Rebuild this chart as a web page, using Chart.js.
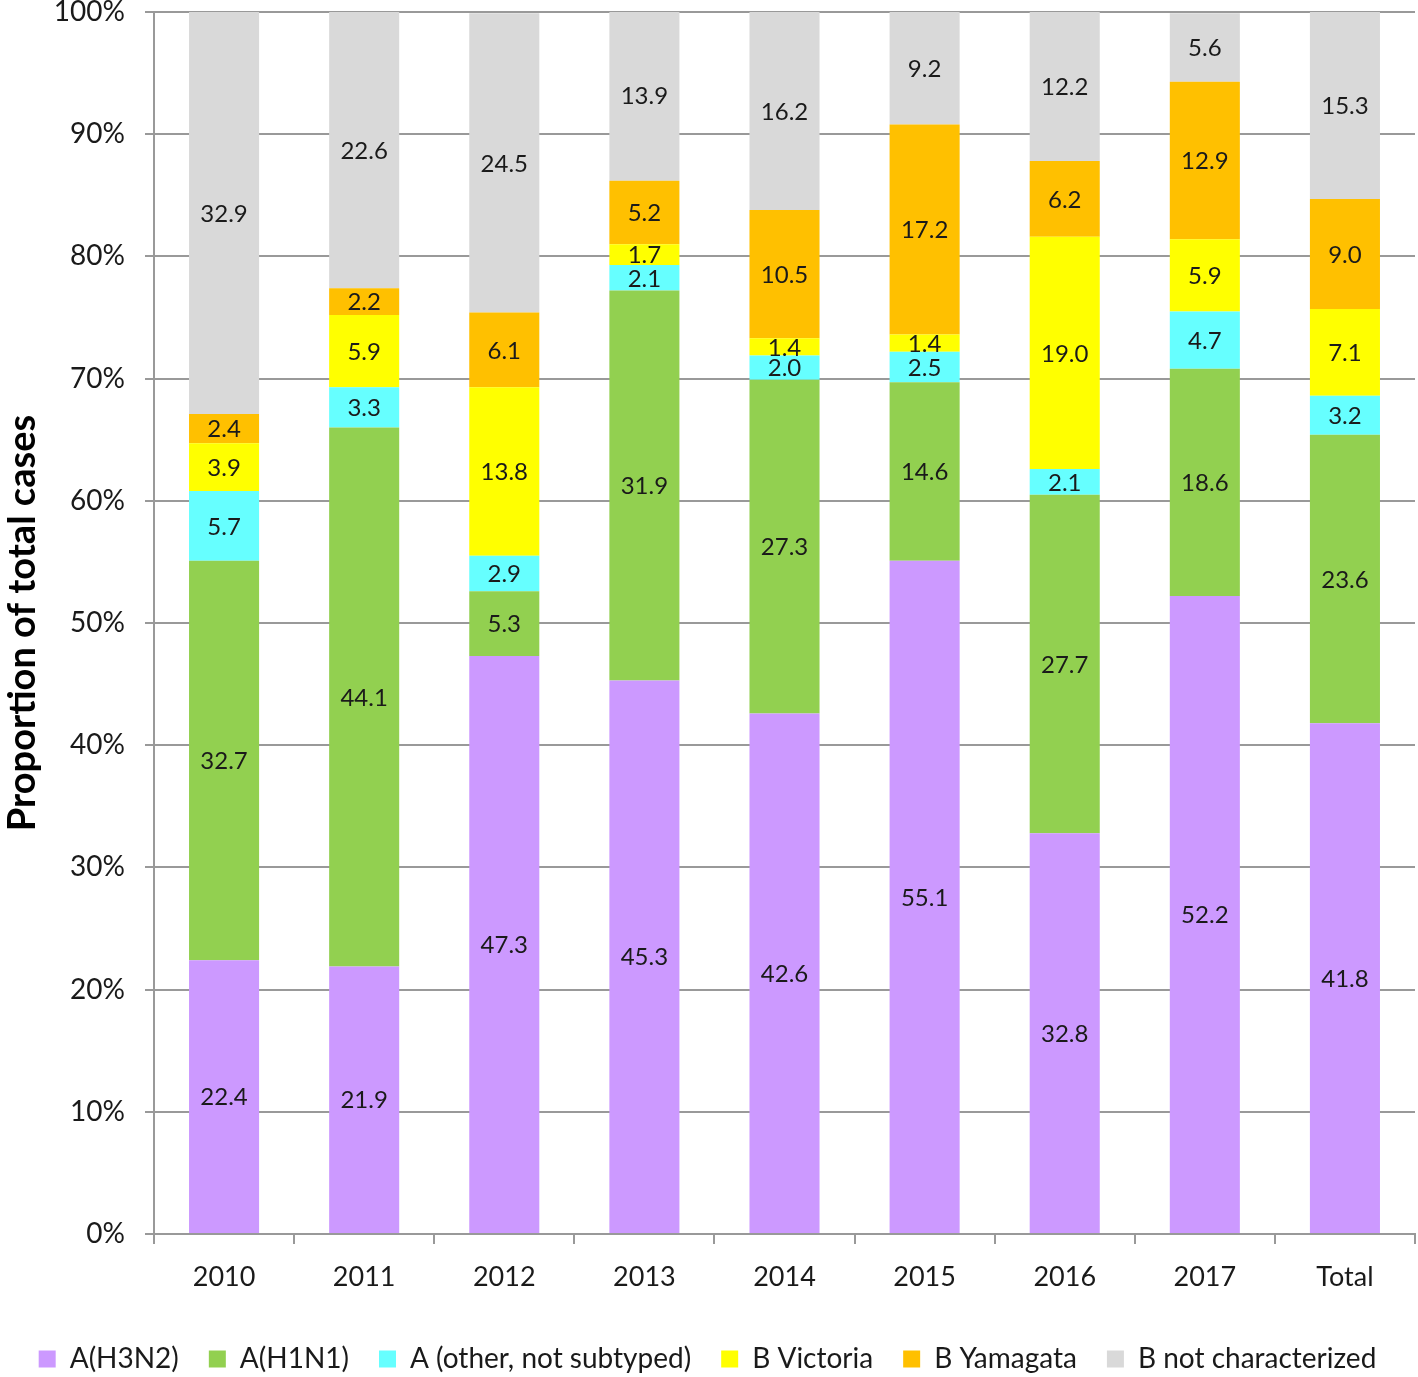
<!DOCTYPE html>
<html>
<head>
<meta charset="utf-8">
<script src="https://cdn.jsdelivr.net/npm/chart.js@4/dist/chart.umd.min.js"></script>
<style>
  html, body { margin: 0; padding: 0; background: #fff; }
  #wrap { width: 1418px; height: 1377px; }
</style>
</head>
<body>
<div id="wrap"><canvas id="fluChart" width="1418" height="1377"></canvas></div>
<script>
const years = ['2010', '2011', '2012', '2013', '2014', '2015', '2016', '2017', 'Total'];
const yTicks = [0, 10, 20, 30, 40, 50, 60, 70, 80, 90, 100];

const h3n2 = [22.4, 21.9, 47.3, 45.3, 42.6, 55.1, 32.8, 52.2, 41.8];
const h1n1 = [32.7, 44.1, 5.3, 31.9, 27.3, 14.6, 27.7, 18.6, 23.6];
const aOther = [5.7, 3.3, 2.9, 2.1, 2.0, 2.5, 2.1, 4.7, 3.2];
const bVictoria = [3.9, 5.9, 13.8, 1.7, 1.4, 1.4, 19.0, 5.9, 7.1];
const bYamagata = [2.4, 2.2, 6.1, 5.2, 10.5, 17.2, 6.2, 12.9, 9.0];
const bNotChar = [32.9, 22.6, 24.5, 13.9, 16.2, 9.2, 12.2, 5.6, 15.3];

const seriesNames = ['A(H3N2)', 'A(H1N1)', 'A (other, not subtyped)', 'B Victoria', 'B Yamagata', 'B not characterized'];
const seriesColors = ['#CC99FF', '#92D050', '#66FFFF', '#FFFF00', '#FFC000', '#D9D9D9'];
const seriesValues = [h3n2, h1n1, aOther, bVictoria, bYamagata, bNotChar];

const fontFamily = 'Lato, "Open Sans", sans-serif';

// draws the value in the middle of each bar segment
const segmentLabels = {
    id: 'segmentLabels',
    afterDatasetsDraw(chart) {
        const ctx = chart.ctx;
        ctx.save();
        ctx.font = '24px ' + fontFamily;
        ctx.fillStyle = '#1a1a1a';
        ctx.textAlign = 'center';
        ctx.textBaseline = 'middle';
        chart.data.datasets.forEach((ds, i) => {
            const meta = chart.getDatasetMeta(i);
            meta.data.forEach((bar, j) => {
                const v = ds.data[j];
                const mid = (bar.y + bar.base) / 2;
                ctx.fillText(v.toFixed(1), bar.x, mid + 1);
            });
        });
        ctx.restore();
    }
};

const datasets = seriesNames.map((name, i) => ({
    label: name,
    data: seriesValues[i],
    backgroundColor: seriesColors[i],
    borderWidth: 0,
    barPercentage: 0.5,
    categoryPercentage: 1.0
}));

const ctx = document.getElementById('fluChart').getContext('2d');
new Chart(ctx, {
    type: 'bar',
    data: { labels: years, datasets: datasets },
    options: {
        responsive: false,
        animation: false,
        layout: { padding: { top: 12, right: 3, left: 0, bottom: -6 } },
        plugins: {
            tooltip: { enabled: false },
            legend: {
                position: 'bottom',
                labels: {
                    boxWidth: 17,
                    boxHeight: 17,
                    padding: 30,
                    color: '#1a1a1a',
                    font: { family: fontFamily, size: 28 }
                }
            }
        },
        scales: {
            x: {
                stacked: true,
                offset: true,
                grid: {
                    offset: true,
                    drawOnChartArea: false,
                    drawTicks: true,
                    tickLength: 10,
                    color: '#999999',
                    lineWidth: 2
                },
                border: { color: '#999999', width: 2 },
                ticks: {
                    color: '#1a1a1a',
                    padding: 17,
                    font: { family: fontFamily, size: 27 }
                },
                afterFit: s => { s.height = 81; s.paddingLeft = 0; s.paddingRight = 0; }
            },
            y: {
                stacked: true,
                min: 0,
                max: 100,
                afterBuildTicks: s => { s.ticks = yTicks.map(v => ({ value: v })); },
                grid: {
                    color: '#999999',
                    lineWidth: 2,
                    tickLength: 9
                },
                border: { color: '#999999', width: 2 },
                ticks: {
                    color: '#1a1a1a',
                    padding: 20,
                    font: { family: fontFamily, size: 28 },
                    callback: v => v + '%'
                },
                title: {
                    display: true,
                    text: 'Proportion of total cases',
                    color: '#000',
                    font: { family: fontFamily, size: 38, weight: 'bold' },
                    padding: { top: 0, bottom: 6 }
                },
                afterFit: s => { s.width = 154; s.paddingTop = 0; s.paddingBottom = 0; }
            }
        }
    },
    plugins: [segmentLabels]
});
</script>
</body>
</html>
